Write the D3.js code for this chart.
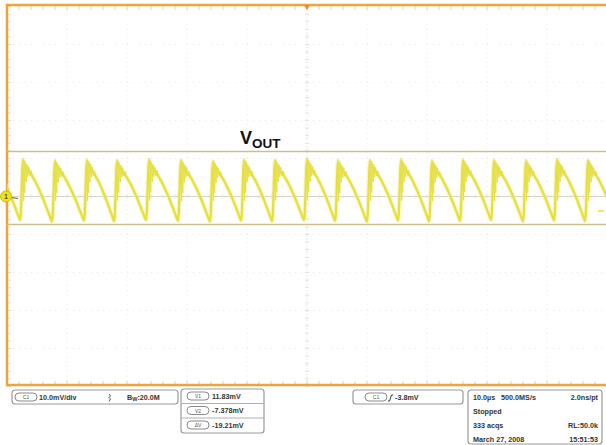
<!DOCTYPE html>
<html><head><meta charset="utf-8">
<script src="https://cdn.jsdelivr.net/npm/d3@7"></script>
<style>html,body{margin:0;background:#fff}svg{display:block}</style>
</head><body><svg id="scope" width="606" height="445"></svg>
<script>
// ---- acquisition data (µs / mV) ----
const timeDomain = [-50, 50];          // 10 µs/div, 10 divisions
const voltDomain = [-50, 50];          // 10 mV/div, 10 divisions
// switching edges of the output ripple
const riseTimes  = [-52.5, -47.33, -42.0, -36.67, -31.67, -26.33, -21.0, -15.67, -10.5, -5.33,
                    0, 5.17, 10.5, 15.67, 20.83, 26.0, 31.17, 36.5, 41.67, 46.83, 52.0];
// ripple crest right after each edge
const peakLevels = [10.0, 10.2, 9.8, 10.1, 9.9, 10.2, 10.0, 9.7, 10.1, 10.0,
                    10.3, 9.9, 10.0, 10.2, 9.8, 10.1, 10.0, 9.9, 10.2, 10.0, 10.0];
// ripple valley just before each edge
const troughLevels = [-6.4, -6.2, -6.6, -6.3, -6.5, -6.2, -6.4, -6.6, -6.3, -6.5,
                      -6.2, -6.4, -6.6, -6.3, -6.5, -6.4, -6.2, -6.5, -6.3, -6.4, -6.4];
// shape of one cycle: [phase of cycle, fraction between valley and crest]
const bodyShape = [[0, 0.96], [0.05, 0.9], [0.1, 0.85], [0.17, 0.8], [0.25, 0.74], [0.35, 0.66],
                   [0.45, 0.56], [0.55, 0.45], [0.65, 0.33], [0.75, 0.2], [0.84, 0.08], [0.91, 0.0]];
const ringShape = [[0, 1.0], [0.02, 0.32], [0.035, 0.95], [0.055, 0.45], [0.075, 0.93], [0.1, 0.62],
                   [0.125, 0.9], [0.15, 0.7], [0.18, 0.86], [0.21, 0.72], [0.25, 0.8], [0.3, 0.7]];
// readouts
const cursorV1 = 11.83, cursorV2 = -7.378;
const triggerLevel = -3.8, triggerTime = 0, groundLevel = 0;
const vertText = "10.0mV/div", bwText = ":20.0M";
const cursorRows = [["V1", "11.83mV"], ["V2", "-7.378mV"], ["\u0394V", "-19.21mV"]];
const trigText = "-3.8mV";
const timebaseRows = [["10.0\u00b5s   500.0MS/s", "2.0ns/pt"], ["Stopped", ""], ["333 acqs", "RL:50.0k"], ["March 27, 2008", "15:51:53"]];

const svg = d3.select("#scope");
const FONT = "'Liberation Sans', Arial, sans-serif";
const L = 7, R = 607, T = 5, B = 385;
const x = d3.scaleLinear().domain(timeDomain).range([L, R]);
const y = d3.scaleLinear().domain(voltDomain).range([B + 1.5, T + 1.5]);
const ORANGE = "#eea43a", TICK = "#f5cf92";

svg.append("defs").append("clipPath").attr("id", "plotClip")
  .append("rect").attr("x", L).attr("y", T).attr("width", R - L).attr("height", B - T);

// ---- graticule ----
const grid = svg.append("g");
const divT = d3.range(timeDomain[0], timeDomain[1] + 0.01, 10);
const divV = d3.range(voltDomain[0], voltDomain[1] + 0.01, 10);
grid.selectAll("line.gx").data(divT.slice(1, -1)).join("line")
  .attr("x1", d => x(d)).attr("x2", d => x(d)).attr("y1", T).attr("y2", B)
  .attr("stroke", "#e9e9e9").attr("stroke-width", 1).attr("stroke-dasharray", "1,3.75");
grid.selectAll("line.gy").data(divV.slice(1, -1)).join("line")
  .attr("y1", d => y(d)).attr("y2", d => y(d)).attr("x1", L).attr("x2", R)
  .attr("stroke", "#e9e9e9").attr("stroke-width", 1).attr("stroke-dasharray", "1,5");

// center crosshair with minor ticks
const minorT = d3.range(timeDomain[0], timeDomain[1] + 0.01, 2);
const minorV = d3.range(voltDomain[0], voltDomain[1] + 0.01, 2);
grid.append("line").attr("x1", L).attr("x2", R).attr("y1", y(0)).attr("y2", y(0))
  .attr("stroke", "#d8d2c0").attr("stroke-width", 1);
grid.append("line").attr("x1", x(0)).attr("x2", x(0)).attr("y1", T).attr("y2", B)
  .attr("stroke", "#e4e4e4").attr("stroke-width", 1).attr("stroke-dasharray", "1,2");
grid.selectAll("line.ct").data(minorT).join("line")
  .attr("x1", d => x(d)).attr("x2", d => x(d)).attr("y1", y(0) - 2).attr("y2", y(0) + 2)
  .attr("stroke", "#e2e2e2");
grid.selectAll("line.cv").data(minorV).join("line")
  .attr("y1", d => y(d)).attr("y2", d => y(d)).attr("x1", x(0) - 2).attr("x2", x(0) + 2)
  .attr("stroke", "#e2e2e2");

// frame ticks
grid.selectAll("line.tt").data(minorT).join("line")
  .attr("x1", d => x(d)).attr("x2", d => x(d)).attr("y1", T).attr("y2", T + 5)
  .attr("stroke", TICK);
grid.selectAll("line.bt").data(minorT).join("line")
  .attr("x1", d => x(d)).attr("x2", d => x(d)).attr("y1", B - 4).attr("y2", B)
  .attr("stroke", TICK);
grid.selectAll("line.lt").data(minorV).join("line")
  .attr("y1", d => y(d)).attr("y2", d => y(d)).attr("x1", L).attr("x2", L + 4)
  .attr("stroke", "#e2ddd0");

// frame
svg.append("path").attr("d", `M${R},${T}H${L}V${B}H${R}`)
  .attr("fill", "none").attr("stroke", ORANGE).attr("stroke-width", 2.5);

// ---- cursors ----
const plot = svg.append("g").attr("clip-path", "url(#plotClip)");
plot.selectAll("line.cur").data([cursorV1, cursorV2]).join("line")
  .attr("x1", L).attr("x2", R).attr("y1", d => y(d)).attr("y2", d => y(d))
  .attr("stroke", "#cbbf90").attr("stroke-width", 1.6);

// ---- waveform ----
function buildTrace(shape) {
  const pts = [];
  for (let i = 0; i < riseTimes.length - 1; i++) {
    const r0 = riseTimes[i], r1 = riseTimes[i + 1];
    const hi = peakLevels[i], lo = troughLevels[i + 1];
    shape.forEach(([ph, f]) => pts.push([r0 + ph * (r1 - r0), lo + (hi - lo) * f]));
  }
  return pts;
}
const body = buildTrace(bodyShape);
const line = d3.line().x(d => x(d[0])).y(d => y(d[1])).curve(d3.curveMonotoneX);
// persistence halo, then the trace body
plot.append("path").datum(body).attr("d", line)
  .attr("fill", "none").attr("stroke", "#f3f0a6").attr("stroke-width", 4.5)
  .attr("stroke-linejoin", "round").attr("opacity", 0.55);
plot.append("path").datum(body).attr("d", line)
  .attr("fill", "none").attr("stroke", "#e6e03c").attr("stroke-width", 2.3)
  .attr("stroke-linejoin", "round");
const ringLine = d3.line().x(d => x(d[0])).y(d => y(d[1]));
for (let i = 0; i < riseTimes.length - 1; i++) {
  const r0 = riseTimes[i], r1 = riseTimes[i + 1];
  const hi = peakLevels[i], lo = troughLevels[i + 1];
  const seg = ringShape.map(([ph, f]) => [r0 + ph * (r1 - r0), lo + (hi - lo) * f]);
  plot.append("path").datum(seg).attr("d", ringLine)
    .attr("fill", "none").attr("stroke", "#e6e04a").attr("stroke-width", 1);
}

// ---- markers ----
// trigger position
svg.append("path").attr("d", `M${x(triggerTime) - 3},${T}L${x(triggerTime) + 3},${T}L${x(triggerTime)},${T + 5}Z`)
  .attr("fill", "#f08a2a");
// trigger level at right edge
svg.append("line").attr("x1", 598).attr("x2", 604).attr("y1", y(triggerLevel)).attr("y2", y(triggerLevel))
  .attr("stroke", "#e6de40").attr("stroke-width", 1.5);
// channel 1 ground marker
svg.append("line").attr("x1", L + 4).attr("x2", L + 11).attr("y1", y(groundLevel) + 1).attr("y2", y(groundLevel) + 2)
  .attr("stroke", "#6a6420").attr("stroke-width", 1);
svg.append("circle").attr("cx", L - 1).attr("cy", y(groundLevel)).attr("r", 5.5)
  .attr("fill", "#f2e414").attr("stroke", "#c8b820").attr("stroke-width", 1);
svg.append("text").attr("x", L - 1).attr("y", y(groundLevel) + 2.5).attr("text-anchor", "middle")
  .attr("font-family", FONT).attr("font-size", 7).attr("font-weight", "bold").attr("fill", "#555")
  .text("1");

// ---- signal label ----
const lbl = svg.append("text").attr("x", 240).attr("y", 144)
  .attr("font-family", FONT).attr("font-weight", "bold").attr("fill", "#111");
lbl.append("tspan").attr("font-size", 18).text("V");
lbl.append("tspan").attr("font-size", 13.5).attr("dy", 4).text("OUT");

// ---- readout panels ----
const ui = svg.append("g").attr("font-family", FONT).attr("font-weight", "bold")
  .attr("font-size", 7.2).attr("fill", "#333");
function box(x0, y0, w, h) {
  ui.append("rect").attr("x", x0).attr("y", y0).attr("width", w).attr("height", h).attr("rx", 3)
    .attr("fill", "#fff").attr("stroke", "#9a9a9a").attr("stroke-width", 1.2);
}
function pill(x0, y0, label) {
  ui.append("rect").attr("x", x0).attr("y", y0).attr("width", 22).attr("height", 8).attr("rx", 4)
    .attr("fill", "#fff").attr("stroke", "#8a8a8a").attr("stroke-width", 1);
  ui.append("text").attr("x", x0 + 11).attr("y", y0 + 6).attr("text-anchor", "middle")
    .attr("font-size", 5).attr("font-weight", "normal").attr("fill", "#555").text(label);
}
// vertical settings
box(12, 390, 166, 14);
pill(15, 393, "C1");
ui.append("text").attr("x", 39).attr("y", 399.8).text(vertText);
ui.append("path").attr("d", "M109,394 l1.5,2 -1.5,1.5 1.5,1.5 -1.5,2.5")
  .attr("fill", "none").attr("stroke", "#444").attr("stroke-width", 0.9);
const bw = ui.append("text").attr("x", 127).attr("y", 399.8);
bw.append("tspan").text("B");
bw.append("tspan").attr("font-size", 5.5).attr("dy", 1.5).text("W");
bw.append("tspan").attr("dy", -1.5).text(bwText);

// cursor readouts
box(181, 389, 83, 44);
cursorRows.forEach(([k, v], i) => {
  const y0 = 389 + i * 14.5;
  if (i > 0) ui.append("line").attr("x1", 181).attr("x2", 264).attr("y1", y0).attr("y2", y0)
    .attr("stroke", "#b0b0b0");
  pill(187, y0 + 3, k);
  ui.append("text").attr("x", 212).attr("y", y0 + 9.8).text(v);
});

// trigger
box(353, 390, 110, 14);
pill(365, 393, "C1");
ui.append("path").attr("d", "M388,401 h1.5 l2,-6 h1.5")
  .attr("fill", "none").attr("stroke", "#333").attr("stroke-width", 1);
ui.append("text").attr("x", 395).attr("y", 399.8).text(trigText);

// timebase / acquisition
box(468, 390, 134, 54);
timebaseRows.forEach(([a, b], i) => {
  const yy = 400 + i * 14;
  ui.append("text").attr("x", 473).attr("y", yy).attr("xml:space", "preserve").text(a);
  if (b) ui.append("text").attr("x", 598).attr("y", yy).attr("text-anchor", "end").text(b);
});
</script></body></html>
